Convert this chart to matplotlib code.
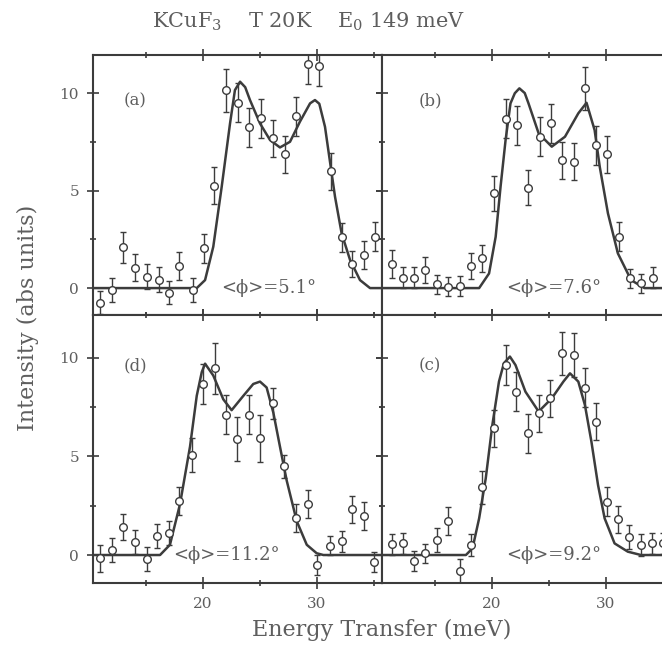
import numpy as np
import matplotlib
matplotlib.use("Agg")
import matplotlib.pyplot as plt
from matplotlib.ticker import MultipleLocator

plt.rcParams["font.family"] = ["DejaVu Serif"]
plt.rcParams["mathtext.fontset"] = "dejavuserif"

INK = "#3c3c3c"
TXT = "#5e5e5e"

# ---- data (energy in meV, intensity in abs units) ----
e_a = [11.0, 12.0, 13.0, 14.0, 15.05, 16.1, 17.0, 17.9, 19.1, 20.1, 21.0, 22.0, 23.1,
       24.05, 25.1, 26.1, 27.2, 28.2, 29.2, 30.2, 31.2, 32.2, 33.1, 34.1, 35.1]
i_a = [-0.75, -0.1, 2.1, 1.04, 0.58, 0.44, -0.24, 1.13, -0.1, 2.03, 5.25, 10.15, 9.5,
       8.24, 8.7, 7.67, 6.85, 8.8, 11.5, 11.4, 6.0, 2.6, 1.23, 1.69, 2.63]
s_a = [0.6, 0.6, 0.8, 0.7, 0.65, 0.65, 0.6, 0.7, 0.6, 0.75, 0.95, 1.1, 1.0,
       1.0, 1.0, 0.95, 0.95, 1.0, 1.05, 1.05, 0.95, 0.75, 0.65, 0.7, 0.75]

e_b = [11.2, 12.15, 13.15, 14.15, 15.2, 16.15, 17.15, 18.15, 19.15, 20.15, 21.2, 22.2,
       23.2, 24.2, 25.2, 26.15, 27.15, 28.15, 29.15, 30.1, 31.1, 32.1, 33.1, 34.1]
i_b = [1.23, 0.53, 0.53, 0.92, 0.19, 0.07, 0.1, 1.13, 1.52, 4.86, 8.68, 8.36,
       5.14, 7.76, 8.44, 6.56, 6.48, 10.24, 7.33, 6.85, 2.63, 0.5, 0.24, 0.53]
s_b = [0.7, 0.55, 0.55, 0.65, 0.5, 0.5, 0.5, 0.65, 0.7, 0.9, 1.0, 1.0,
       0.9, 1.0, 1.0, 0.95, 0.95, 1.1, 1.0, 0.95, 0.75, 0.5, 0.5, 0.55]

e_d = [11.0, 12.0, 13.0, 14.0, 15.05, 16.0, 17.0, 17.9, 19.0, 20.0, 21.05, 22.0, 23.0,
       24.05, 25.0, 26.1, 27.1, 28.15, 29.2, 30.0, 31.1, 32.15, 33.1, 34.1, 35.0]
i_d = [-0.17, 0.26, 1.41, 0.65, -0.2, 0.95, 1.12, 2.75, 5.07, 8.68, 9.48, 7.13, 5.88,
       7.13, 5.93, 7.7, 4.5, 1.89, 2.58, -0.52, 0.48, 0.69, 2.32, 1.98, -0.34]
s_d = [0.7, 0.6, 0.65, 0.6, 0.6, 0.6, 0.6, 0.7, 0.85, 1.0, 1.3, 1.0, 1.1,
       1.0, 1.2, 0.8, 0.6, 0.7, 0.7, 0.5, 0.5, 0.55, 0.7, 0.7, 0.5]

e_c = [11.2, 12.15, 13.15, 14.15, 15.2, 16.15, 17.15, 18.15, 19.15, 20.15, 21.2, 22.1,
       23.15, 24.15, 25.1, 26.1, 27.15, 28.15, 29.15, 30.1, 31.05, 32.05, 33.05, 34.05, 35.0]
i_c = [0.54, 0.59, -0.3, 0.08, 0.76, 1.73, -0.81, 0.51, 3.43, 6.43, 9.64, 8.29,
       6.18, 7.19, 7.95, 10.24, 10.15, 8.49, 6.77, 2.71, 1.81, 0.93, 0.51, 0.59, 0.59]
s_c = [0.55, 0.55, 0.5, 0.5, 0.6, 0.7, 0.6, 0.55, 0.85, 0.95, 1.0, 1.0,
       1.0, 0.95, 0.95, 1.1, 1.1, 1.0, 0.95, 0.75, 0.7, 0.6, 0.55, 0.55, 0.55]

# fitted curves, traced point by point
fx_a = [10.3, 19.45, 20.18, 20.9, 21.64, 22.37, 22.8, 23.25, 23.7, 24.12, 25.0, 25.88,
        26.75, 27.63, 28.5, 29.39, 29.82, 30.2, 30.7, 30.99, 31.58, 32.16, 32.9, 33.77,
        34.65, 35.8]
fy_a = [0, 0, 0.41, 2.12, 5.2, 8.44, 10.15, 10.58, 10.3, 9.64, 8.44, 7.59,
        7.21, 7.5, 8.53, 9.47, 9.64, 9.45, 8.27, 7.08, 4.68, 2.8, 1.44, 0.41,
        0, 0]

fx_b = [10.3, 18.87, 19.74, 20.32, 20.75, 21.19, 21.62, 22.0, 22.4, 22.87, 23.2, 24.09,
        25.24, 26.4, 27.57, 28.29, 29.0, 29.45, 30.17, 31.04, 32.2, 33.37, 35.8]
fy_b = [0, 0, 0.75, 2.63, 5.2, 7.59, 9.47, 9.99, 10.24, 10.0, 9.47, 7.93,
        7.25, 7.76, 8.96, 9.5, 8.1, 6.22, 3.83, 1.78, 0.41, 0, 0]

fx_d = [10.3, 16.23, 17.1, 17.98, 18.86, 19.45, 19.89, 20.18, 20.9, 21.78, 22.51, 23.54,
        24.41, 25.0, 25.58, 26.17, 26.75, 27.34, 28.22, 29.1, 29.97, 30.56, 35.8]
fy_d = [0, 0, 0.52, 2.58, 5.5, 8.08, 9.28, 9.71, 9.11, 7.9, 7.35, 8.08,
        8.68, 8.8, 8.5, 7.22, 5.5, 3.78, 1.72, 0.52, 0.09, 0, 0]

fx_c = [10.3, 17.71, 18.29, 18.87, 19.45, 20.03, 20.61, 21.04, 21.57, 22.06, 22.93, 24.09,
        25.24, 26.26, 26.84, 27.57, 28.15, 28.72, 29.3, 29.88, 30.75, 31.91, 33.07, 35.8]
fy_c = [0, 0, 0.34, 1.86, 3.89, 6.6, 8.8, 9.73, 10.07, 9.64, 8.29, 7.28,
        7.95, 8.8, 9.22, 8.8, 7.61, 5.75, 3.55, 1.86, 0.59, 0.17, 0, 0]

panel_tags = ["(a)", "(b)", "(d)", "(c)"]
phi_text = ["<ϕ>=5.1°", "<ϕ>=7.6°", "<ϕ>=11.2°", "<ϕ>=9.2°"]
phi_x = [21.6, 21.2, 17.4, 21.2]

XLIM = (10.35, 35.7)

fig = plt.figure(figsize=(6.62, 6.55), dpi=100)
W, H = 662, 655
L1, L2, PW = 93, 382, 289
rects = [
    [L1 / W, (H - 315) / H, PW / W, 260 / H],
    [L2 / W, (H - 315) / H, PW / W, 260 / H],
    [L1 / W, (H - 583) / H, PW / W, 268 / H],
    [L2 / W, (H - 583) / H, PW / W, 268 / H],
]
ylims = [(-1.38, 11.95), (-1.38, 11.95), (-1.42, 12.18), (-1.42, 12.18)]

points = [(e_a, i_a, s_a), (e_b, i_b, s_b), (e_d, i_d, s_d), (e_c, i_c, s_c)]
fits = [(fx_a, fy_a), (fx_b, fy_b), (fx_d, fy_d), (fx_c, fy_c)]

for k in range(4):
    ax = fig.add_axes(rects[k])
    e, i, s = points[k]
    fx, fy = fits[k]
    ax.plot(fx, fy, color=INK, lw=1.8, solid_joinstyle="round", zorder=2)
    ax.errorbar(e, i, yerr=s, fmt="o", ms=5.5, mfc="white", mec=INK, mew=1.0,
                ecolor=INK, elinewidth=1.0, capsize=2.5, capthick=1.0, zorder=3)
    ax.set_xlim(*XLIM)
    ax.set_ylim(*ylims[k])
    ax.xaxis.set_major_locator(MultipleLocator(10))
    ax.xaxis.set_minor_locator(MultipleLocator(5))
    ax.yaxis.set_major_locator(MultipleLocator(5))
    ax.yaxis.set_minor_locator(MultipleLocator(2.5))
    ax.tick_params(which="both", direction="inout", top=True, right=True,
                   color=INK, width=1.2, labelcolor=TXT, labelsize=11)
    ax.tick_params(which="major", length=8, pad=6)
    ax.tick_params(which="minor", length=4)
    for sp in ax.spines.values():
        sp.set_color(INK)
        sp.set_linewidth(1.5)
    if k % 2 == 1:
        ax.tick_params(labelleft=False)
    if k < 2:
        ax.tick_params(labelbottom=False)
    ax.text(13.0 if k % 2 == 0 else 13.6, 9.6, panel_tags[k], fontsize=12,
            color=TXT, va="center", ha="left")
    ax.text(phi_x[k], 0.0, phi_text[k], fontsize=13, color=TXT,
            va="center", ha="left")

fig.text(309 / W, 1 - 22 / H, r"KCuF$_3$    T 20K    E$_0$ 149 meV",
         fontsize=15, color=TXT, ha="center", va="center")
fig.text(382 / W, 1 - 630 / H, "Energy Transfer (meV)", fontsize=16,
         color=TXT, ha="center", va="center")
fig.text(28 / W, 1 - 318 / H, "Intensity (abs units)", fontsize=16,
         color=TXT, ha="center", va="center", rotation=90)

fig.savefig("out.png", dpi=100)
